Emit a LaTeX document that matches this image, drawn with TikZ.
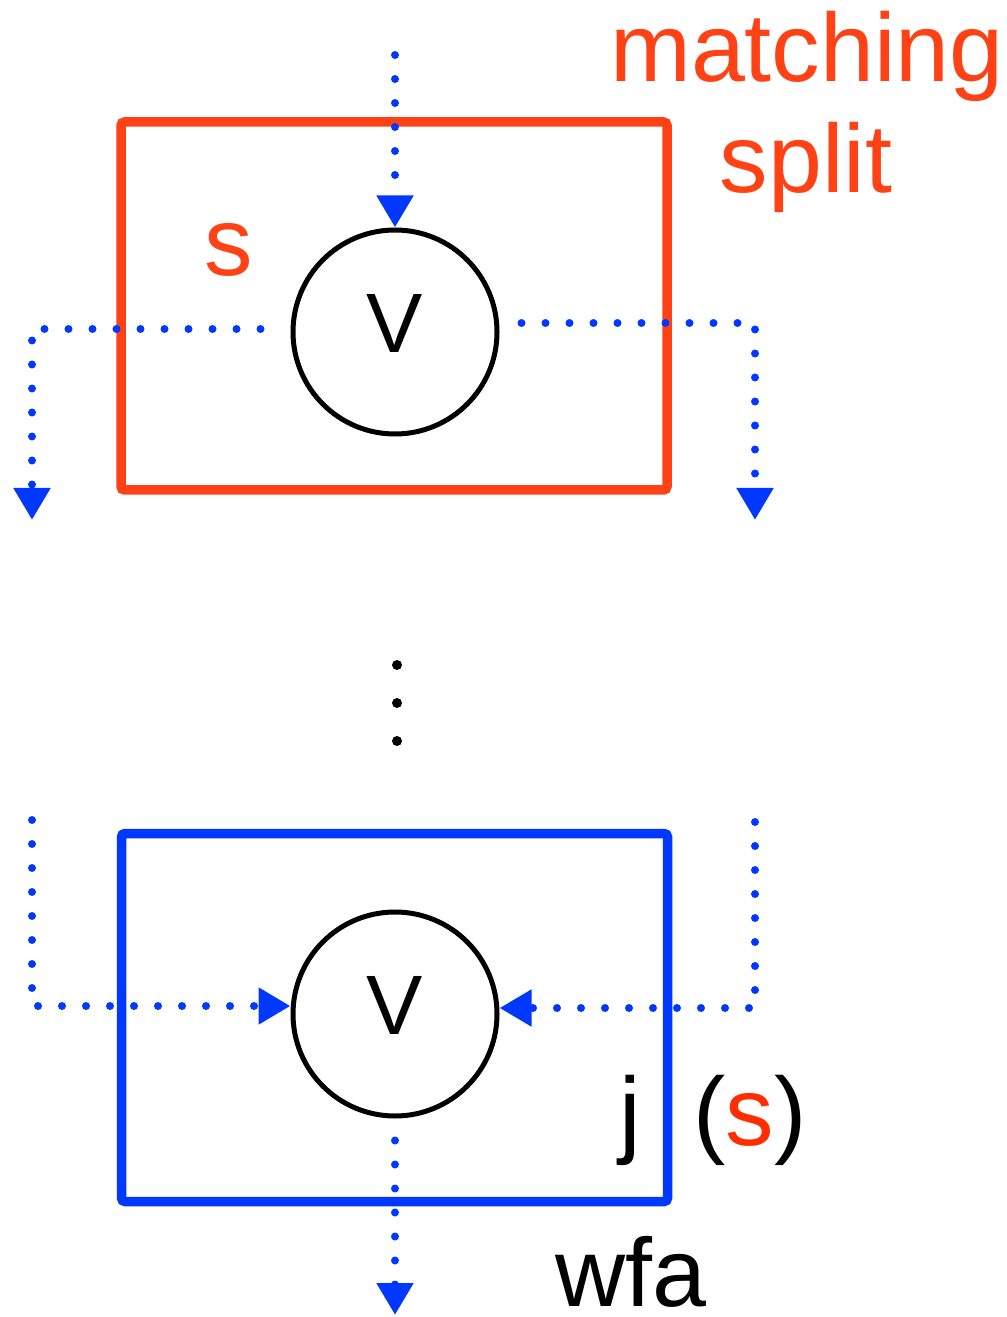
\documentclass[tikz,border=0pt]{standalone}
\usepackage{fontspec}
\setmainfont{Liberation Sans}
\usepackage{xcolor}
\usepackage{tikz}
\usetikzlibrary{arrows.meta}

\definecolor{splitred}{RGB}{255,66,22}
\definecolor{argred}{RGB}{255,45,0}
\definecolor{flowblue}{RGB}{0,56,255}

\begin{document}
\begin{tikzpicture}[
  frame/.style={draw, line width=0.095cm, rounded corners=1pt, minimum width=5.46cm,
                minimum height=3.68cm, inner sep=0pt},
  orgate/.style={draw=black, circle, line width=0.05cm, minimum size=2.04cm, inner sep=0pt,
                 font=\fontsize{24pt}{24pt}\selectfont},
  lbl/.style={inner sep=0pt, anchor=base, font=\fontsize{27.6pt}{33pt}\selectfont},
  flow/.style={-{Triangle[width=0.35cm, length=0.32cm]}, flowblue, line width=0.08cm,
               line cap=round, dash pattern=on 0pt off 0.24cm}
]
  \useasboundingbox (0,0) rectangle (10.06,-13.17);

  % Boxes and gates
  \node[frame, draw=splitred]  (splitbox) at (3.94,-3.06)  {};
  \node[frame, draw=flowblue]  (joinbox)  at (3.945,-10.175) {};
  \node[orgate] (topv) at (3.95,-3.32)  {\raisebox{0.18cm}{V}};
  \node[orgate] (botv) at (3.95,-10.14) {\raisebox{0.18cm}{V}};

  % Labels
  \node[lbl, text=splitred] (match) at (8.07,-0.82) {matching};
  \node[lbl, text=splitred] (split) at (8.06,-1.93) {split};
  \node[lbl, text=splitred] (sname) at (2.29,-2.76) {s};
  \node[lbl, anchor=base west] (jname) at (6.19,-11.45) {j\hspace{0.52cm}(\textcolor{argred}{s})};
  \node[lbl] (wfa) at (6.31,-13.06) {wfa};

  % Free ends
  \coordinate (in)   at (3.95,-0.55);
  \coordinate (outl) at (0.32,-5.20);
  \coordinate (outr) at (7.55,-5.20);
  \coordinate (inl)  at (0.32,-8.20);
  \coordinate (inr)  at (7.55,-8.22);
  \coordinate (out)  at (3.95,-13.15);

  % Paths
  \draw[flow] (in) -- (topv.north);
  \draw[flow, shorten <=0.3cm]  ([yshift=0.03cm]topv.west) -| (outl);
  \draw[flow, shorten <=0.22cm] ([yshift=0.09cm]topv.east) -| (outr);
  \draw[flow] (inl) |- ([yshift=0.08cm]botv.west);
  \draw[flow] (inr) |- ([yshift=0.06cm]botv.east);
  \draw[flow, shorten <=0.22cm] (botv.south) -- (out);

  % vertical ellipsis
  \foreach \y in {6.65,7.03,7.41}
    \fill (3.97,-\y) circle (0.05);
\end{tikzpicture}
\end{document}
